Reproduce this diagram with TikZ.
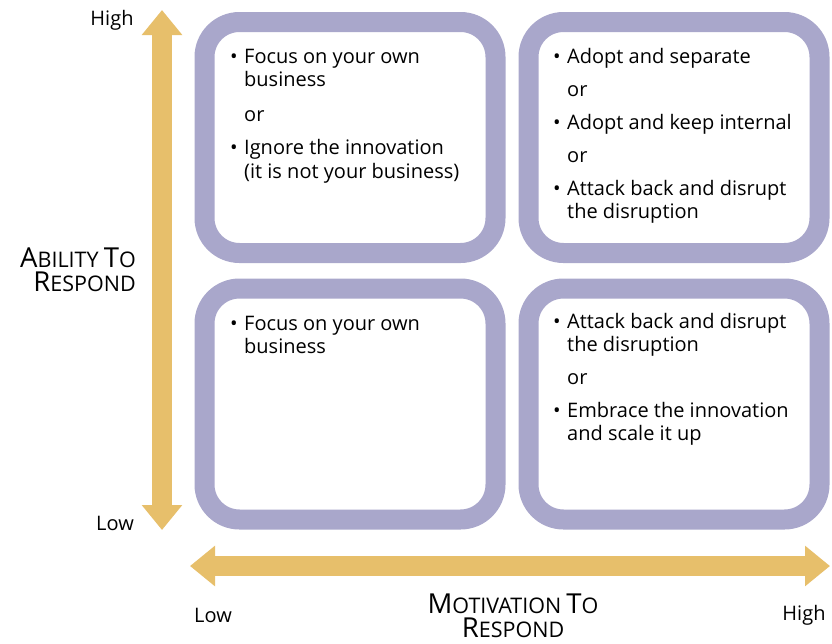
\documentclass[tikz,border=0pt]{standalone}
\usepackage{fontspec}
\setmainfont{Open Sans}
\usetikzlibrary{arrows.meta,positioning}
\definecolor{quadlilac}{HTML}{A9A7CB}
\definecolor{axisgold}{HTML}{E7BF6B}
\newcommand{\capsc}[2]{{\fontsize{27.5}{24}\selectfont #1}{\fontsize{21.5}{24}\selectfont #2}}
\newcommand{\bul}{\textbullet}
\tikzset{
  quadbox/.style={draw=quadlilac, line width=20pt, fill=white, rounded corners=35pt,
    minimum width=291pt, minimum height=231pt, inner sep=0pt},
  quadtext/.style={anchor=base west, inner sep=0pt, font=\fontsize{20}{23.5}\selectfont},
  axisarrow/.style={draw=axisgold, line width=20pt,
    {Triangle[width=39pt,length=25pt]}-{Triangle[width=39pt,length=25pt]}},
  axislabel/.style={inner sep=0pt, font=\fontsize{20}{24}\selectfont}
}

\begin{document}
\begin{tikzpicture}[x=1pt,y=-1pt]
    \useasboundingbox (0,0) rectangle (832,643);

    % Quadrants
    \foreach \name/\cx/\cy in {TL/350/137.5, TR/674/137.5, BL/350/404, BR/674/404} {
            \node[quadbox] (\name) at (\cx,\cy) {};
        }

    % Quadrant texts
    \node[quadtext] (tTL) at (230,63) {\begin{tabular}[t]{@{}p{14pt}@{}l@{}}
        \bul & Focus on your own \\ & business \\[11pt]
        & or \\[10pt]
        \bul & Ignore the innovation \\ & (it is not your business)
      \end{tabular}};
    \node[quadtext] (tTR) at (553,63) {\begin{tabular}[t]{@{}p{14pt}@{}l@{}}
        \bul & Adopt and separate \\[9.5pt]
        & or \\[9.5pt]
        \bul & Adopt and keep internal \\[9.5pt]
        & or \\[9.5pt]
        \bul & Attack back and disrupt \\ & the disruption
      \end{tabular}};
    \node[quadtext] (tBL) at (230,330) {\begin{tabular}[t]{@{}p{14pt}@{}l@{}}
        \bul & Focus on your own \\ & business
      \end{tabular}};
    \node[quadtext] (tBR) at (553,328) {\begin{tabular}[t]{@{}p{14pt}@{}l@{}}
        \bul & Attack back and disrupt \\ & the disruption \\[9.5pt]
        & or \\[9pt]
        \bul & Embrace the innovation \\ & and scale it up
      \end{tabular}};

    % Axes
    \coordinate (vhigh) at (162,10);
    \coordinate (vlow) at (162,530);
    \coordinate (hlow) at (190,566);
    \coordinate (hhigh) at (830,566);
    \draw[axisarrow] (vlow) -- (vhigh);
    \draw[axisarrow] (hlow) -- (hhigh);

    % Axis labels
    \node[axislabel] (yhigh) at (112,20) {High};
    \node[axislabel] (ylow) at (115,523) {Low};
    \node[axislabel, anchor=east, align=right] (ytitle) at (136,270)
      {\capsc{A}{BILITY} \capsc{T}{O}\\\capsc{R}{ESPOND}};
    \node[axislabel] (xlow) at (213,615) {Low};
    \node[axislabel] (xhigh) at (804,615) {High};
    \node[axislabel, align=center] (xtitle) at (513,616)
      {\capsc{M}{OTIVATION} \capsc{T}{O}\\\capsc{R}{ESPOND}};
\end{tikzpicture}
\end{document}
